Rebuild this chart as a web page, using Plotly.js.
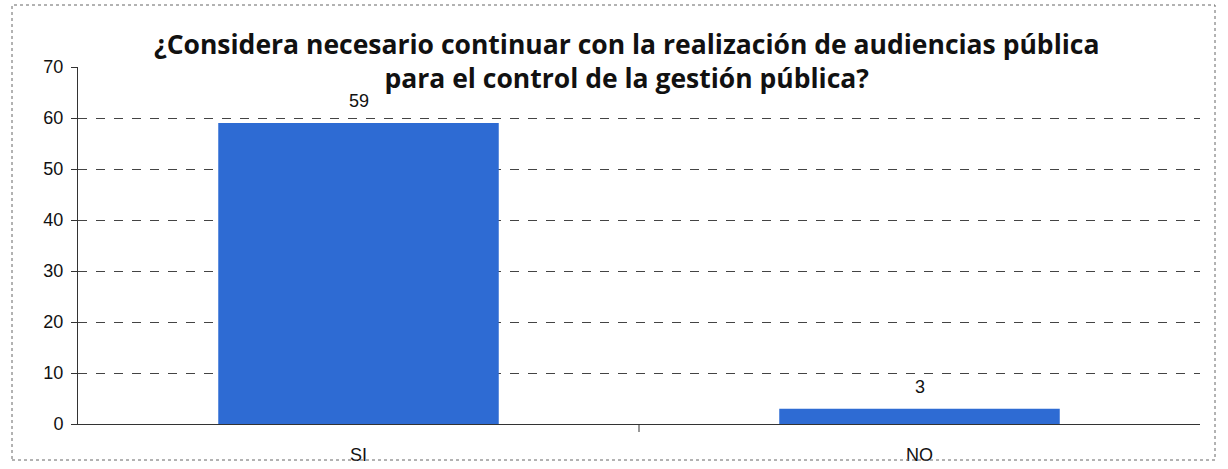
<!DOCTYPE html>
<html><head><meta charset="utf-8">
<script src="https://cdn.plot.ly/plotly-3.0.1.min.js"></script>
<style>html,body{margin:0;padding:0;background:#fff}#c{width:1228px;height:469px}</style>
</head><body><div id="c"></div>
<script>
const categories = ["SI", "NO"];
const values = [59, 3];
const titleText = "¿Considera necesario continuar con la realización de audiencias pública<br>para el control de la gestión pública?";

const W = 1228, H = 469, L = 78, R = 28, T = 67, B = 45;
const pw = W - L - R, ph = H - T - B;
const px = v => (v - L) / pw, py = v => (H - B - v) / ph;

const trace = {
  type: "bar", x: categories, y: values,
  marker: {color: "#2e6bd3", line: {width: 0}},
  cliponaxis: false, hoverinfo: "none"
};
const labelAnns = categories.map((c, i) => ({
  x: c, y: values[i], xref: "x", yref: "y", text: String(values[i]),
  showarrow: false, yanchor: "bottom", yshift: 10,
  font: {family: "Liberation Sans, Arial", size: 18, color: "#111"}
}));
const layout = {
  width: W, height: H,
  margin: {l: L, r: R, t: T, b: B},
  paper_bgcolor: "#fff", plot_bgcolor: "#fff",
  bargap: 0.5,
  showlegend: false,
  annotations: [{
    text: titleText, xref: "paper", yref: "paper", x: px(626), y: py(61),
    xanchor: "center", yanchor: "middle", showarrow: false, align: "center",
    font: {family: "Open Sans", size: 26.5, color: "#111", weight: "bold"}
  }].concat(labelAnns),
  xaxis: {type: "category", showgrid: false, showline: true, linecolor: "#333", linewidth: 1,
    ticks: "", tickfont: {family: "Liberation Sans, Arial", size: 18, color: "#111"}, ticklabelstandoff: 14,
    fixedrange: true},
  yaxis: {range: [0, 70], dtick: 10, showgrid: true, gridcolor: "#444", griddash: "dash", gridwidth: 1,
    showline: true, linecolor: "#333", linewidth: 1, ticks: "outside", ticklen: 6, tickcolor: "#333",
    ticklabelstandoff: 4,
    zeroline: false, tickfont: {family: "Liberation Sans, Arial", size: 18, color: "#111"}, fixedrange: true},
  shapes: [
    {type: "rect", xref: "paper", yref: "paper", x0: px(12), x1: px(1215), y0: py(460), y1: py(5),
     line: {color: "#666", width: 1, dash: "dot"}},
    {type: "line", xref: "paper", yref: "paper", x0: 0.5, x1: 0.5, y0: 0, y1: py(432),
     line: {color: "#333", width: 1}}
  ]
};
Plotly.newPlot("c", [trace], layout, {staticPlot: true, displayModeBar: false});
</script></body></html>
